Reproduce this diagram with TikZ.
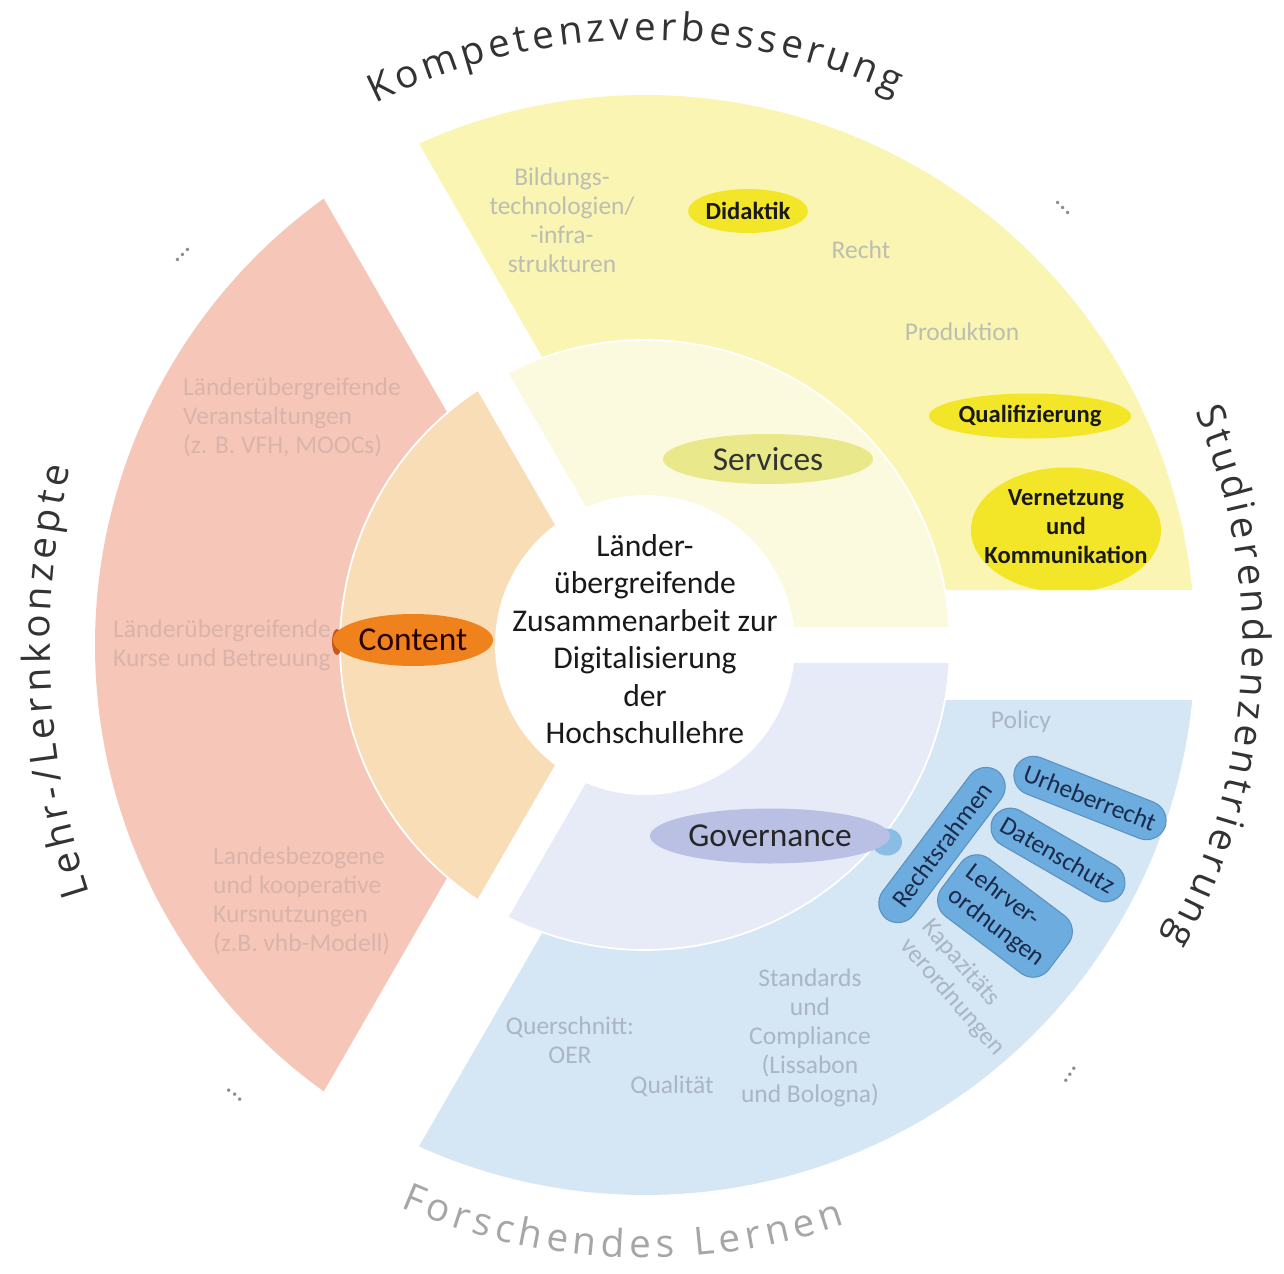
\documentclass[tikz,border=0pt]{standalone}
\usepackage{fontspec}
\setmainfont{Carlito}
\newfontfamily\arcfont{Open Sans}
\usetikzlibrary{shapes.geometric,decorations.text}

\definecolor{kompyellow}{HTML}{FAF5B2}
\definecolor{servyellow}{HTML}{FBF9DE}
\definecolor{lehrred}{HTML}{F6C7B8}
\definecolor{contpeach}{HTML}{F9DDB6}
\definecolor{policyblue}{HTML}{D5E6F5}
\definecolor{govblue}{HTML}{E7EBF7}
\definecolor{servtag}{HTML}{E9E98C}
\definecolor{brightyellow}{HTML}{F3E628}
\definecolor{contorange}{HTML}{F0821E}
\definecolor{conttail}{HTML}{C8561E}
\definecolor{govtag}{HTML}{B9C0E4}
\definecolor{pillblue}{HTML}{6CACDE}
\definecolor{pilltext}{HTML}{1B2A4A}
\definecolor{yelgray}{HTML}{BDBDB2}
\definecolor{redgray}{HTML}{DAB3AA}
\definecolor{bluegray}{HTML}{AAB6C4}

\newcommand\ringfont{\arcfont\fontsize{22}{26}\selectfont}

\begin{document}
\begin{tikzpicture}[
    faint/.style={text=#1, font=\fontsize{14.5}{16.5}\selectfont, align=center},
    faint/.default=yelgray,
    tag/.style={ellipse, fill=brightyellow, inner sep=0pt, align=center,
      font=\fontsize{14}{16.7}\selectfont\bfseries, text=black!90},
    core/.style={ellipse, inner sep=0pt, font=\fontsize{19}{22}\selectfont},
    pill/.style={rectangle, rounded corners=4mm, fill=pillblue,
      draw=pillblue!85!black, line width=0.6pt, text=pilltext,
      font=\fontsize{14.5}{16.5}\selectfont, inner xsep=6pt, inner ysep=6pt},
    dots/.style={text=black!45, font=\fontsize{16}{16}\selectfont}
  ]

  % Page
  \fill[white] (-12.9,-12.58) rectangle (12.78,12.9);
  \useasboundingbox (-12.9,-12.58) rectangle (12.78,12.9);

  % Outer ring
  \foreach \a/\c in {0/kompyellow, 120/lehrred, 240/policyblue}
    \fill[\c] (\a+60:1.27) -- (\a+5.74:11)
      arc[start angle=\a+5.74, end angle=\a+114.26, radius=11] -- cycle;

  % Inner ring
  \foreach \a/\c in {0/servyellow, 120/contpeach, 240/govblue}
    \filldraw[fill=\c, draw=white, line width=1pt] (\a+60:0.39) -- (\a+3.19:6.1)
      arc[start angle=\a+3.19, end angle=\a+116.81, radius=6.1] -- cycle;

  % Centre
  \fill[white] (0,0) circle (3.0);
  \node[align=center, text=black!90, font=\fontsize{18}{21.3}\selectfont] (Z) at (0,0.12)
    {Länder-\\übergreifende\\Zusammenarbeit zur\\Digitalisierung\\der\\Hochschullehre};

  % Kompetenzverbesserung
  \node[faint] (B) at (-1.66,8.5) {Bildungs-\\technologien/\\-infra-\\strukturen};
  \node[faint] (Re) at (4.32,7.9) {Recht};
  \node[faint] (Pr) at (6.34,6.26) {Produktion};
  \node[tag, minimum width=2.4cm, minimum height=0.88cm] (Di) at (2.06,8.68) {Didaktik};
  \node[tag, minimum width=3.9cm, minimum height=0.9cm] (Qu) at (7.7,4.58) {Qualifizierung};
  \begin{scope}
    \clip (60:1.27) -- (5.74:11) arc[start angle=5.74, end angle=114.26, radius=11] -- cycle;
    \fill[brightyellow] (8.42,2.3) ellipse (1.9 and 1.25);
  \end{scope}
  \node[align=center, font=\fontsize{14}{16.7}\selectfont\bfseries, text=black!90] (V)
    at (8.42,2.37) {Vernetzung\\und\\Kommunikation};

  % Lehr-/Lernkonzepte
  \node[faint=redgray, align=left, anchor=west] (L1) at (-9.36,4.56)
    {Länderübergreifende\\Veranstaltungen\\(z. B. VFH, MOOCs)};
  \node[faint=redgray, align=left, anchor=west] (L2) at (-10.76,0.0)
    {Länderübergreifende\\Kurse und Betreuung};
  \node[faint=redgray, align=left, anchor=west] (L3) at (-8.76,-5.12)
    {Landesbezogene\\und kooperative\\Kursnutzungen\\(z.B. vhb-Modell)};

  % Policy
  \node[faint=bluegray] (P) at (7.52,-1.54) {Policy};
  \node[faint=bluegray] (Q) at (-1.5,-7.9) {Querschnitt:\\OER};
  \node[faint=bluegray] (Qa) at (0.54,-8.82) {Qualität};
  \node[faint=bluegray] (St) at (3.3,-7.86)
    {Standards\\und\\Compliance\\(Lissabon\\und Bologna)};
  \node[faint=bluegray, align=left, rotate=-49] (K) at (6.36,-6.86)
    {Kapazitäts\\verordnungen};
  \node[pill, minimum width=3.7cm, rotate=53] (R) at (5.94,-4.0) {Rechtsrahmen};
  \node[pill, rotate=-21.5] (U) at (8.9,-3.06) {Urheberrecht};
  \node[pill, rotate=-30] (D) at (8.26,-4.2) {Datenschutz};
  \node[pill, align=left, rotate=-37] (LV) at (7.2,-5.42) {Lehrver-\\ordnungen};

  % Services, Content, Governance
  \node[core, fill=servtag, minimum width=4.2cm, minimum height=1cm, text=black!80]
    (S) at (2.46,3.72) {Services};
  \fill[conttail] (-6.16,0.06) ellipse (0.1 and 0.26);
  \node[core, fill=contorange, minimum width=3.2cm, minimum height=1.04cm, text=black!85!red]
    (C) at (-4.64,0.1) {Content};
  \fill[pillblue!80!white] (4.84,-3.94) ellipse (0.3 and 0.27);
  \node[core, fill=govtag, minimum width=4.8cm, minimum height=1.1cm, text=black!85]
    (G) at (2.5,-3.82) {Governance};

  % Ring labels
  \path[decorate, decoration={text along path, text align=fit to path, text color=black!80,
    text={|\ringfont|Kompetenzverbesserung}}]
    (116.5:12.1) arc[start angle=116.5, end angle=65.5, radius=12.1];
  \path[decorate, decoration={text along path, text align=fit to path, text color=black!80,
    text={|\ringfont|Studierendenzentrierung}}]
    (23:11.95) arc[start angle=23, end angle=-29.5, radius=11.95];
  \path[shift={(4.1,0)}, decorate, decoration={text along path, text align=fit to path,
    text color=black!80, text={|\ringfont|Lehr-/Lernkonzepte}}]
    (198.1:16) arc[start angle=198.1, end angle=167.2, radius=16];
  \path[decorate, decoration={text along path, text align=fit to path, text color=black!35,
    text={|\ringfont|Forschendes Lernen}}]
    (246.5:12.26) arc[start angle=246.5, end angle=289, radius=12.26];

  % More to come
  \node[dots, rotate=45] (d1) at (-9.24,7.8) {...};
  \node[dots, rotate=-45] (d2) at (8.36,8.74) {...};
  \node[dots, rotate=-40] (d3) at (-8.2,-9.0) {...};
  \node[dots, rotate=55] (d4) at (8.5,-8.6) {...};

\end{tikzpicture}
\end{document}
